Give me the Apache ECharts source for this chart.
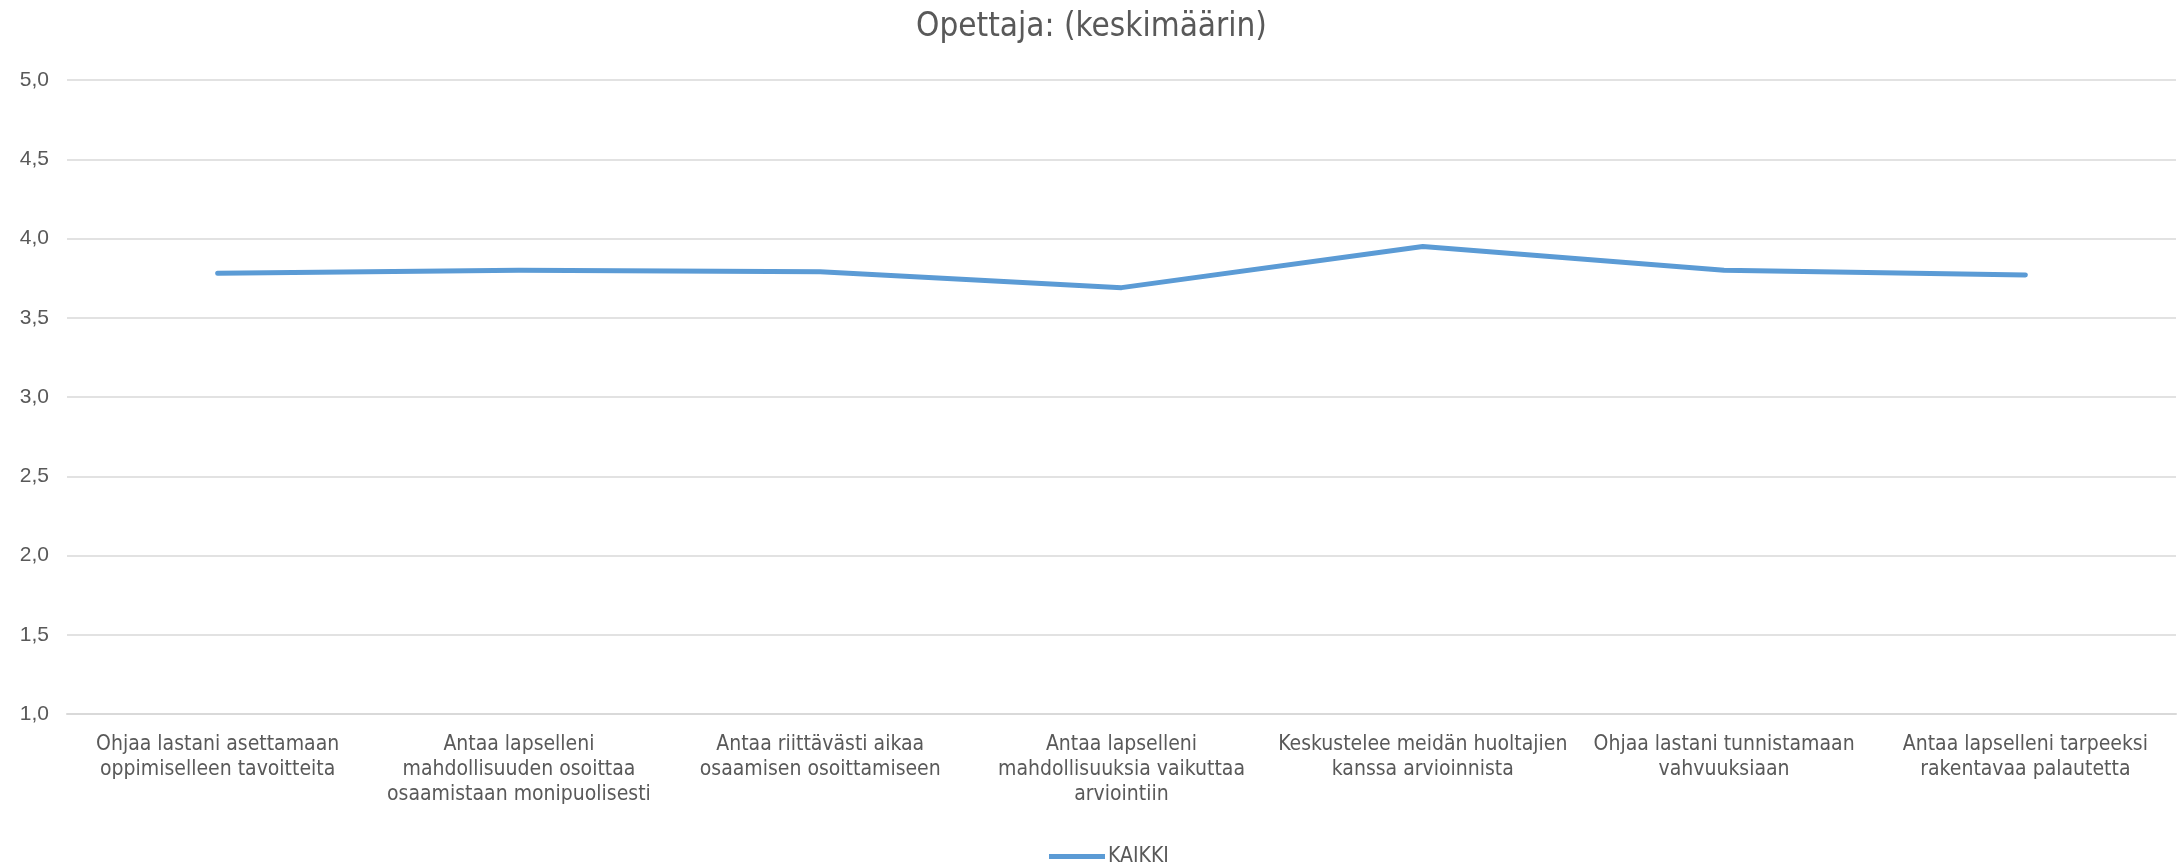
<!DOCTYPE html>
<html>
<head>
<meta charset="utf-8">
<script src="https://cdn.jsdelivr.net/npm/echarts@6/dist/echarts.min.js"></script>
<style>
  html, body { margin: 0; padding: 0; background: #fff; }
  #chart { width: 2183px; height: 866px; }
</style>
</head>
<body>
<div id="chart"></div>
<script>
var categories = [
  'Ohjaa lastani asettamaan\noppimiselleen tavoitteita',
  'Antaa lapselleni\nmahdollisuuden osoittaa\nosaamistaan monipuolisesti',
  'Antaa riittävästi aikaa\nosaamisen osoittamiseen',
  'Antaa lapselleni\nmahdollisuuksia vaikuttaa\narviointiin',
  'Keskustelee meidän huoltajien\nkanssa arvioinnista',
  'Ohjaa lastani tunnistamaan\nvahvuuksiaan',
  'Antaa lapselleni tarpeeksi\nrakentavaa palautetta'
];
var kaikki = [3.78, 3.80, 3.79, 3.69, 3.95, 3.80, 3.77];
var seriesName = 'KAIKKI';
var titleText = 'Opettaja: (keskimäärin)';

var narrow = '"DejaVu Sans Condensed", "Liberation Sans Narrow", sans-serif';

var chart = echarts.init(document.getElementById('chart'));
var option = {
  animation: false,
  title: {
    text: titleText,
    left: 'center',
    top: 6,
    textStyle: {
      fontFamily: narrow,
      fontSize: 33,
      fontWeight: 'normal',
      color: '#595959'
    }
  },
  legend: {
    data: [seriesName],
    left: 1044,
    top: 841,
    icon: 'rect',
    itemWidth: 56,
    itemHeight: 5,
    itemGap: 4,
    textStyle: {
      fontFamily: narrow,
      fontSize: 21,
      color: '#595959',
      padding: [0, 0, 0, -2]
    }
  },
  grid: {
    left: 67,
    right: 7,
    top: 80,
    bottom: 152
  },
  xAxis: {
    type: 'category',
    data: categories,
    boundaryGap: true,
    axisLine: { lineStyle: { color: '#D9D9D9', width: 2 } },
    axisTick: { show: false },
    axisLabel: {
      interval: 0,
      margin: 18,
      fontFamily: narrow,
      fontSize: 21,
      lineHeight: 25,
      color: '#595959'
    }
  },
  yAxis: {
    type: 'value',
    min: 1,
    max: 5,
    interval: 0.5,
    axisLine: { show: false },
    axisTick: { show: false },
    splitLine: { lineStyle: { color: '#D9D9D9', width: 1.5 } },
    axisLabel: {
      margin: 18,
      fontFamily: 'Liberation Sans',
      fontSize: 21,
      color: '#595959',
      formatter: function (v) { return v.toFixed(1).replace('.', ','); }
    }
  },
  series: [{
    name: seriesName,
    type: 'line',
    data: kaikki,
    showSymbol: false,
    symbol: 'none',
    lineStyle: { color: '#5B9BD5', width: 5, cap: 'round', join: 'round' },
    itemStyle: { color: '#5B9BD5' }
  }]
};
chart.setOption(option);
window.addEventListener('resize', function () { chart.resize(); });
</script>
</body>
</html>
